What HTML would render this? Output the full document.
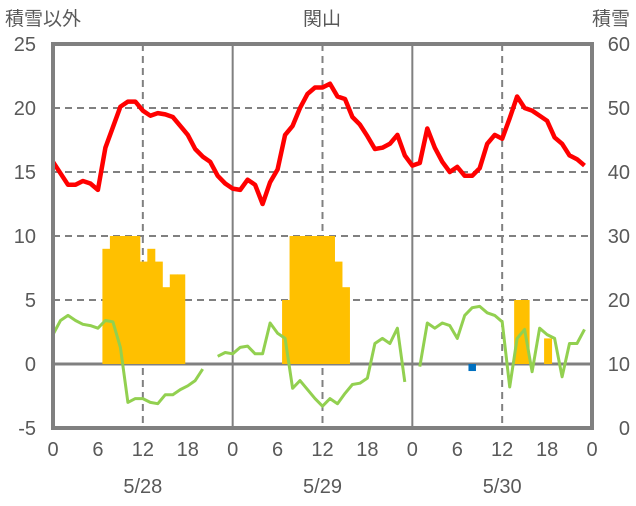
<!DOCTYPE html>
<html><head><meta charset="utf-8"><style>
body{margin:0;background:#fff;}
svg text{font-family:"Liberation Sans","Noto Sans CJK JP",sans-serif;fill:#595959;}
</style></head><body>
<svg id="chart" width="636" height="501" viewBox="0 0 636 501" xmlns="http://www.w3.org/2000/svg">
<g id="grid"></g>
<g id="bars"></g>
<g id="lines"></g>
<g id="frame"></g>
<g id="labels"></g>
<text x="5" y="25" font-size="19">積雪以外</text>
<text x="322" y="25" font-size="19" text-anchor="middle">関山</text>
<text x="630" y="25" font-size="19" text-anchor="end">積雪</text>
</svg>
<script>
const temperature=[15.8,14.9,14.0,14.0,14.3,14.1,13.6,16.9,18.5,20.1,20.5,20.5,19.8,19.4,19.6,19.5,19.3,18.6,17.9,16.8,16.2,15.8,14.7,14.1,
13.7,13.6,14.4,14.0,12.5,14.2,15.2,17.9,18.6,20.0,21.1,21.6,21.6,21.9,20.9,20.7,19.3,18.7,17.8,16.8,16.9,17.2,17.9,16.3,
15.5,15.7,18.4,16.9,15.8,15.0,15.4,14.7,14.7,15.3,17.2,17.9,17.6,19.2,20.9,20.0,19.8,19.4,19.0,17.7,17.2,16.3,16.0,15.5];
const greenSeries=[2.3,3.4,3.8,3.4,3.1,3.0,2.8,3.4,3.3,1.3,-3.0,-2.7,-2.7,-3.0,-3.1,-2.4,-2.4,-2.0,-1.7,-1.3,-0.4,null,0.6,0.9,
0.8,1.3,1.4,0.8,0.8,3.2,2.4,2.0,-1.9,-1.3,-2.0,-2.7,-3.3,-2.7,-3.1,-2.3,-1.6,-1.5,-1.1,1.6,2.0,1.6,2.8,-1.4,
null,-0.2,3.2,2.8,3.2,3.0,2.0,3.8,4.4,4.5,4.0,3.8,3.3,-1.8,2.0,2.7,-0.6,2.8,2.3,2.0,-1.0,1.6,1.6,2.7];
const snowHours=[7,8,9,10,11,12,13,14,15,16,17,31,32,33,34,35,36,37,38,39,62,63,66];
const snowDepth=[28,30,30,30,30,26,28,26,22,24,24,20,30,30,30,30,30,30,26,22,20,20,14];
const blueHours=[56];
const blueValues=[8.9];
const leftTicks=[25,20,15,10,5,0,-5];
const rightTicks=[60,50,40,30,20,10,0];
const hourTicks=["0","6","12","18"];
const dates=["5/28","5/29","5/30"];

const NS="http://www.w3.org/2000/svg";
const X0=53,X1=592,Y25=44,Ym5=428;
function x(h){return X0+(X1-X0)*h/72;}
function yL(v){return Y25+(25-v)*(Ym5-Y25)/30;}
function yR(v){return yL(v/2-5);}
function mk(tag,attrs,parent){const e=document.createElementNS(NS,tag);for(const k in attrs)e.setAttribute(k,attrs[k]);document.getElementById(parent).appendChild(e);return e;}

// grid
[20,15,10,5].forEach(v=>{
 const l=mk('line',{x1:X0,x2:X1,y1:yL(v),y2:yL(v),stroke:'#808080','stroke-width':2,'stroke-dasharray':'7,5'},'grid');
 
 
});
[12,36,60].forEach(h=>{
 const l=mk('line',{x1:x(h),x2:x(h),y1:Y25,y2:Ym5,stroke:'#808080','stroke-width':2,'stroke-dasharray':'7,5'},'grid');
 
 
});
[24,48].forEach(h=>{
 const l=mk('line',{x1:x(h),x2:x(h),y1:Y25,y2:Ym5,stroke:'#808080','stroke-width':2},'grid');
 
 
});
// bars
snowHours.forEach((h,i)=>{
 const top=yR(snowDepth[i]),base=yR(10);
 const r=mk('rect',{x:x(h-0.4),y:top,width:x(h+0.6)-x(h-0.4)+0.5,height:base-top,fill:'#FFC000'},'bars');
 
 
});
blueHours.forEach((h,i)=>{
 const base=yR(10),b=yR(blueValues[i]);
 const r=mk('rect',{x:x(h-0.5),y:base,width:x(1)-x(0),height:b-base,fill:'#0070C0'},'bars');
 
 
});
// zero line
const z=mk('line',{x1:X0,x2:X1,y1:yL(0),y2:yL(0),stroke:'#808080','stroke-width':3},'grid');


// lines
function pathFor(arr){let d='',pen=false;arr.forEach((v,h)=>{if(v===null){pen=false;return;}d+=(pen?'L':'M')+x(h).toFixed(1)+','+yL(v).toFixed(1);pen=true;});return d;}
const g=mk('path',{d:pathFor(greenSeries),fill:'none',stroke:'#92D050','stroke-width':3,'stroke-linejoin':'round'},'lines');


const t=mk('path',{d:pathFor(temperature),fill:'none',stroke:'#FF0000','stroke-width':4.5,'stroke-linejoin':'round'},'lines');


// frame
const f=mk('rect',{x:X0,y:Y25,width:X1-X0,height:Ym5-Y25,fill:'none',stroke:'#808080','stroke-width':4},'frame');


// labels
leftTicks.forEach(v=>{
 const e=mk('text',{x:36,y:yL(v)+7,'font-size':20,'text-anchor':'end'},'labels');e.textContent=v;
 
 
});
rightTicks.forEach(v=>{
 const e=mk('text',{x:630,y:yR(v)+7,'font-size':20,'text-anchor':'end'},'labels');e.textContent=v;
 
 
});
for(let d=0;d<3;d++){hourTicks.forEach((s,i)=>{
 const e=mk('text',{x:x(d*24+i*6),y:456,'font-size':20,'text-anchor':'middle'},'labels');e.textContent=s;
 
 
});
 const e=mk('text',{x:x(d*24+12),y:493,'font-size':20,'text-anchor':'middle'},'labels');e.textContent=dates[d];
 
 
}
const e0=mk('text',{x:x(72),y:456,'font-size':20,'text-anchor':'middle'},'labels');e0.textContent="0";


</script>
</body></html>
